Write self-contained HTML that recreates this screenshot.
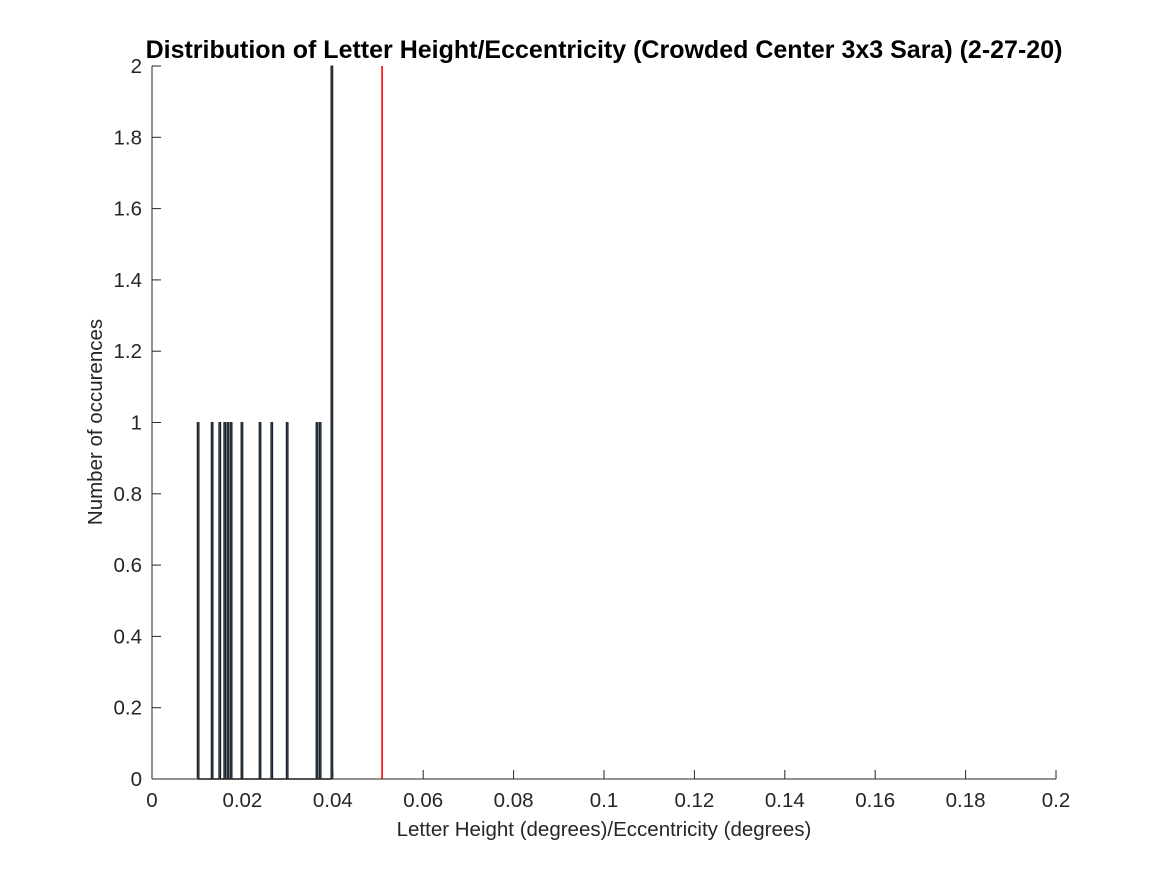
<!DOCTYPE html>
<html><head><meta charset="utf-8"><style>
body{margin:0;background:#fff;}
svg{display:block;font-family:"Liberation Sans",Arial,sans-serif;}
</style></head><body>
<svg id="chart" width="1167" height="875">
<rect width="1167" height="875" fill="#fff"/>
<text x="604" y="58" text-anchor="middle" font-size="25" font-weight="bold" fill="#000">Distribution of Letter Height/Eccentricity (Crowded Center 3x3 Sara) (2-27-20)</text>
<g id="marks"></g>
<g id="axes"></g>
<text x="604" y="836" text-anchor="middle" font-size="20.5" fill="#262626">Letter Height (degrees)/Eccentricity (degrees)</text>
<text transform="translate(102,422) rotate(-90)" text-anchor="middle" font-size="20.5" fill="#262626">Number of occurences</text>
</svg>
<script>
const binCenters=[0.0102,0.0133,0.0150,0.0161,0.0168,0.0175,0.0199,0.0239,0.0265,0.0299,0.0365,0.0372,0.0398];
const counts=[1,1,1,1,1,1,1,1,1,1,1,1,2];
const xTicks=[0,0.02,0.04,0.06,0.08,0.1,0.12,0.14,0.16,0.18,0.2];
const xTickLabels=["0","0.02","0.04","0.06","0.08","0.1","0.12","0.14","0.16","0.18","0.2"];
const yTicks=[0,0.2,0.4,0.6,0.8,1,1.2,1.4,1.6,1.8,2];
const yTickLabels=["0","0.2","0.4","0.6","0.8","1","1.2","1.4","1.6","1.8","2"];
const refValue=[0.0509];
const NS="http://www.w3.org/2000/svg";
const L=152,R=1056,T=66,B=779;
const sx=v=>L+(v-0)/(0.2)*(R-L);
const sy=v=>B-(v/2)*(B-T);
function mk(tag,attrs,parent){const e=document.createElementNS(NS,tag);for(const k in attrs)e.setAttribute(k,attrs[k]);parent.appendChild(e);return e;}
const marks=document.getElementById('marks'),axes=document.getElementById('axes');
const bl=mk('line',{x1:sx(binCenters[0]),x2:sx(binCenters[binCenters.length-1]),y1:B,y2:B,stroke:'#000','stroke-width':1.5},marks);


binCenters.forEach((c,i)=>{
  const x=sx(c),y=sy(counts[i]);
  const r=mk('rect',{x:x-1,y:y,width:2,height:B-y,fill:'#34495e',stroke:'#000','stroke-width':0.7},marks);
  
  
});
refValue.forEach(v=>{
  const l=mk('line',{x1:sx(v),x2:sx(v),y1:T,y2:B,stroke:'#ff0000','stroke-width':1.6},marks);
  
  
});
const xa=mk('line',{x1:L,x2:R,y1:B,y2:B,stroke:'#262626','stroke-width':1},axes);


const ya=mk('line',{x1:L,x2:L,y1:T,y2:B,stroke:'#262626','stroke-width':1},axes);


xTicks.forEach((v,i)=>{
  const x=sx(v);
  mk('line',{x1:x,x2:x,y1:B,y2:B-9,stroke:'#262626'},axes);
  const t=mk('text',{x:x,y:B+28,'text-anchor':'middle','font-size':20.5,fill:'#262626'},axes);
  t.textContent=xTickLabels[i];
  
  
});
yTicks.forEach((v,i)=>{
  const y=sy(v);
  mk('line',{x1:L,x2:L+9,y1:y,y2:y,stroke:'#262626'},axes);
  const t=mk('text',{x:L-10,y:y+7,'text-anchor':'end','font-size':20.5,fill:'#262626'},axes);
  t.textContent=yTickLabels[i];
  
  
});
</script>
</body></html>
